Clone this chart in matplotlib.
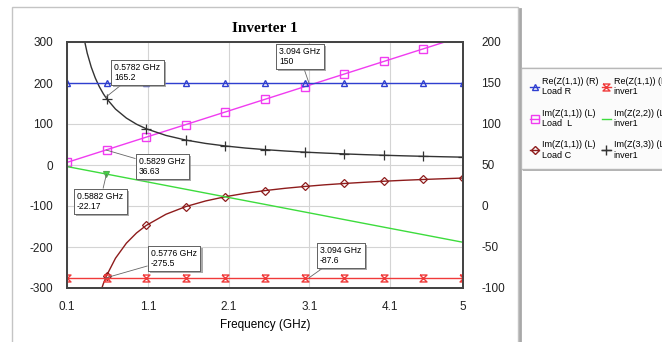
import matplotlib
matplotlib.use('Agg')
import matplotlib.pyplot as plt
import matplotlib.patches as mpatches
import matplotlib.patheffects as pe
from matplotlib.lines import Line2D

# ---------------- data ----------------
# coarse grid (marker points) for the constant / straight series
freq_pts = [0.1, 0.59, 1.08, 1.57, 2.06, 2.55, 3.04, 3.53, 4.02, 4.51, 5.0]
re_load_r = [150, 150, 150, 150, 150, 150, 150, 150, 150, 150, 150]          # right axis
re_inver1 = [-87.6, -87.6, -87.6, -87.6, -87.6, -87.6, -87.6, -87.6, -87.6, -87.6, -87.6]  # right axis
im_load_l = [6.3, 37.1, 67.9, 98.6, 129.4, 160.2, 191.0, 221.8, 252.6, 283.4, 314.2]
im22_inver1 = [-3.8, -22.2, -40.7, -59.2, -77.7, -96.1, -114.6, -133.1, -151.6, -170.0, -188.5]

# finer grid for the curved series
freq = [0.1, 0.2, 0.3, 0.35, 0.4, 0.45, 0.5, 0.55, 0.59, 0.7, 0.835, 0.96,
        1.08, 1.325, 1.57, 1.815, 2.06, 2.305, 2.55, 2.795, 3.04, 3.285,
        3.53, 3.775, 4.02, 4.265, 4.51, 4.755, 5.0]
im_load_c = [-1591.5, -795.8, -530.5, -454.7, -397.9, -353.7, -318.3, -289.4,
             -269.7, -227.4, -190.6, -165.8, -147.4, -120.1, -101.4, -87.7,
             -77.3, -69.0, -62.4, -56.9, -52.4, -48.4, -45.1, -42.2, -39.6,
             -37.3, -35.3, -33.5, -31.8]
im33_inver1 = [955.0, 477.5, 318.3, 272.9, 238.8, 212.2, 191.0, 173.6, 161.9,
               136.4, 114.4, 99.5, 88.4, 72.1, 60.8, 52.6, 46.4, 41.4, 37.5,
               34.2, 31.4, 29.1, 27.1, 25.3, 23.8, 22.4, 21.2, 20.1, 19.1]
mk_idx = [0, 8, 12, 14, 16, 18, 20, 22, 24, 26, 28]

xticks = [0.1, 1.1, 2.1, 3.1, 4.1, 5]
xticklabels = ['0.1', '1.1', '2.1', '3.1', '4.1', '5']
yticks_l = [-300, -200, -100, 0, 100, 200, 300]
yticks_r = [-100, -50, 0, 50, 100, 150, 200]

# data markers: (text, freq, value, axis, box top-left in image pixels)
notes = [
    ('0.5782 GHz\n165.2', 0.5782, 165.2, 'L', (110, 60)),
    ('3.094 GHz\n150', 3.094, 150, 'R', (275, 44)),
    ('0.5829 GHz\n36.63', 0.5829, 36.63, 'L', (135, 154)),
    ('0.5882 GHz\n-22.17', 0.5882, -22.17, 'L', (73, 189)),
    ('0.5776 GHz\n-275.5', 0.5776, -275.5, 'L', (147, 246)),
    ('3.094 GHz\n-87.6', 3.094, -87.6, 'R', (316, 243)),
]

c_blue = '#2f3fd0'
c_red = '#f03a3a'
c_mag = '#f03cf0'
c_brown = '#8e1c1c'
c_green = '#3ddc3d'
c_black = '#333333'

hourglass = [(-1, 1), (1, 1), (-1, -1), (1, -1), (-1, 1)]

W, H = 662, 342
plt.rcParams['font.family'] = ['Liberation Sans', 'DejaVu Sans']
plt.rcParams['axes.unicode_minus'] = False
fig = plt.figure(figsize=(W / 100, H / 100), dpi=100)

# outer chart frame (light border, darker edge on the right)
fig.patches.append(mpatches.Rectangle((12 / W, -0.1), (518 - 12) / W, 1.1 - 7 / H,
                                      transform=fig.transFigure, fill=False,
                                      ec='#c4c4c4', lw=1.0, zorder=0))
fig.lines.append(Line2D([520 / W, 520 / W], [0, 1 - 9 / H], transform=fig.transFigure,
                        color='#a8a8a8', lw=2.0))

ax = fig.add_axes([67 / W, 1 - 288 / H, (463 - 67) / W, (288 - 42) / H])
ax2 = ax.twinx()

ax.plot(freq_pts, im_load_l, color=c_mag, lw=1.0, marker='s', ms=6, mfc='none', mew=1.0)
ax.plot(freq, im_load_c, color=c_brown, lw=1.0, marker='D', ms=4, mfc='none', mew=0.9, markevery=mk_idx)
ax.plot(freq_pts, im22_inver1, color=c_green, lw=1.0)
ax.plot(freq, im33_inver1, color=c_black, lw=1.0, marker='+', ms=7, mew=0.9, markevery=mk_idx)
ax2.plot(freq_pts, re_load_r, color=c_blue, lw=1.0, marker='^', ms=5, mfc='none', mew=1.0)
ax2.plot(freq_pts, re_inver1, color=c_red, lw=1.0, marker=hourglass, ms=5, mfc='none', mew=1.0)
ax.plot([0.5882], [-22.17], marker='v', color='#55aa55', ms=5, mfc=c_green, mew=0.8)

ax.set_xlim(0.1, 5)
ax.set_ylim(-300, 300)
ax2.set_ylim(-100, 200)
ax.set_xticks(xticks)
ax.set_xticklabels(xticklabels)
ax.set_yticks(yticks_l)
ax2.set_yticks(yticks_r)
ax.grid(True, color='#d4d4d4', lw=0.8)
ax.set_axisbelow(True)
for a in (ax, ax2):
    a.tick_params(length=0, labelsize=8.5, colors='#222222')
    for s in a.spines.values():
        s.set_color('#444444')
        s.set_linewidth(1.3)
ax.tick_params(axis='y', pad=10)
ax2.tick_params(axis='y', pad=13)
ax.tick_params(axis='x', pad=9)
ax.set_xlabel('Frequency (GHz)', fontsize=8.5, labelpad=5)
fig.text(265 / W, 1 - 29 / H, 'Inverter 1', ha='center', va='center',
         family='Liberation Serif', fontweight='bold', fontsize=11)

for txt, fx, fy, which, (bx, by) in notes:
    src = ax.transData if which == 'L' else ax2.transData
    t = ax2.annotate(txt, xy=(fx, fy), xycoords=src,
                     xytext=(bx + 4, H - by - 3), textcoords='figure pixels',
                     ha='left', va='top', fontsize=6.2, linespacing=1.1,
                     bbox=dict(boxstyle='square,pad=0.4', fc='white', ec='#555555', lw=0.6),
                     arrowprops=dict(arrowstyle='-', color='#666666', lw=0.6,
                                     shrinkA=0, shrinkB=0),
                     zorder=10)
    t.get_bbox_patch().set_path_effects([
        pe.withSimplePatchShadow(offset=(1.5, -1.5), shadow_rgbFace='#888888', alpha=0.7),
        pe.Normal()])

# legend (column-major order)
handles = [
    Line2D([], [], color=c_blue, marker='^', ms=5, mfc='none', lw=1.0),
    Line2D([], [], color=c_mag, marker='s', ms=6, mfc='none', lw=1.0),
    Line2D([], [], color=c_brown, marker='D', ms=4, mfc='none', lw=1.0),
    Line2D([], [], color=c_red, marker=hourglass, ms=5, mfc='none', lw=1.0),
    Line2D([], [], color=c_green, lw=1.0),
    Line2D([], [], color=c_black, marker='+', ms=7, lw=1.0),
]
labels = [
    'Re(Z(1,1)) (R)\nLoad R',
    'Im(Z(1,1)) (L)\nLoad  L',
    'Im(Z(1,1)) (L)\nLoad C',
    'Re(Z(1,1)) (R)\ninver1',
    'Im(Z(2,2)) (L)\ninver1',
    'Im(Z(3,3)) (L)\ninver1',
]
leg = fig.legend(handles, labels, loc='upper left', bbox_to_anchor=(521 / W, 1 - 68 / H),
                 ncol=2, fontsize=6.5, frameon=True, fancybox=False, shadow=False,
                 edgecolor='#b0b0b0', handlelength=1.0, handletextpad=0.3,
                 columnspacing=0.4, labelspacing=1.35, borderpad=1.0, borderaxespad=0)
leg.get_frame().set_linewidth(1.0)
leg.get_frame().set_path_effects([
    pe.withSimplePatchShadow(offset=(1.5, -1.5), shadow_rgbFace='#999999', alpha=0.7),
    pe.Normal()])

fig.savefig('out.png', dpi=100)
